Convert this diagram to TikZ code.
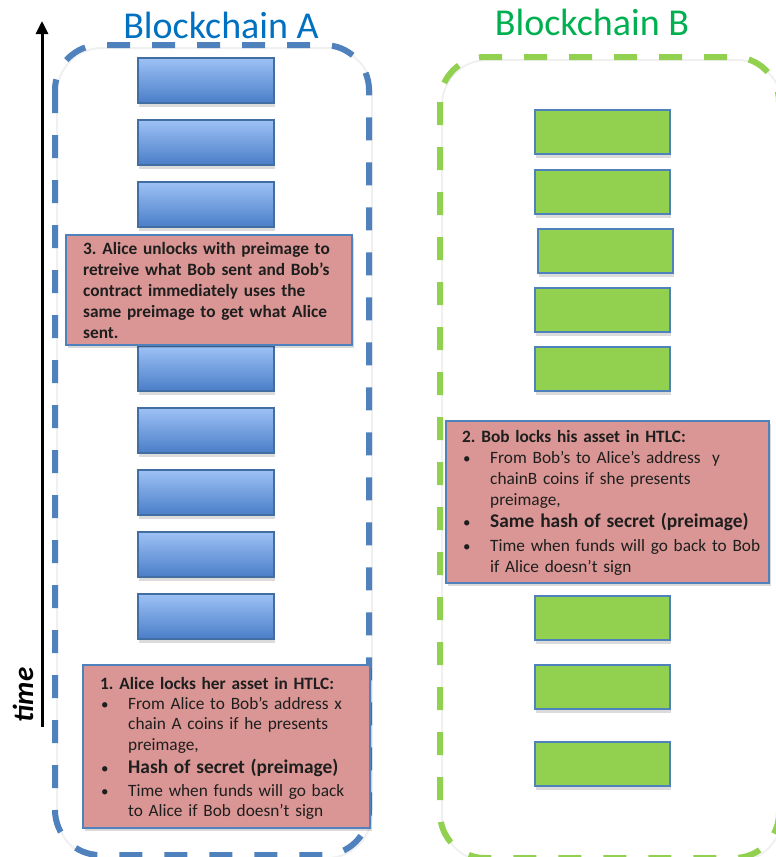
\documentclass[tikz,border=0pt]{standalone}
\usepackage{fontspec}
\setmainfont{Carlito}
\usetikzlibrary{shadows,arrows.meta,calc}
\definecolor{chainA}{HTML}{4F81BD}
\definecolor{chainB}{HTML}{92D050}
\definecolor{titleA}{HTML}{0070C0}
\definecolor{titleB}{HTML}{00B050}
\definecolor{boxfill}{HTML}{D99694}
\definecolor{blueTop}{HTML}{9DC1F5}
\definecolor{blueBot}{HTML}{4A7EC8}
\definecolor{ink}{HTML}{1E1E1E}
\newcommand\bul[1]{\hangindent=28pt\hangafter=1\noindent\makebox[28pt][l]{\hspace{1pt}{\fontsize{15}{15}\selectfont\mdseries\textbullet}}#1\par}
\frenchspacing
\tikzset{
  container/.style={line width=6pt, dash pattern=on 23pt off 22pt, rounded corners=45pt},
  contshadow/.style={draw=black!6, line width=2pt, rounded corners=45pt},
  blockA/.style={draw=chainA!85!black, line width=2pt, top color=blueTop, bottom color=blueBot,
    minimum width=136pt, minimum height=45pt, anchor=north west, inner sep=0pt, outer sep=0pt,
    drop shadow={shadow xshift=1pt, shadow yshift=-4pt, fill=black, opacity=0.14}},
  blockB/.style={draw=chainA, fill=chainB, line width=2.5pt,
    minimum width=135pt, minimum height=44pt, anchor=north west, inner sep=0pt, outer sep=0pt,
    drop shadow={shadow xshift=1pt, shadow yshift=-4pt, fill=black, opacity=0.14}},
  notebox/.style={draw=chainA, fill=boxfill, line width=2pt, anchor=north west, inner sep=0pt, outer sep=0pt,
    drop shadow={shadow xshift=2pt, shadow yshift=-3pt, fill=black, opacity=0.15}},
  notetext/.style={anchor=west, inner sep=0pt, text width=300pt, align=left, text=ink,
    font=\fontsize{17.3}{20.5}\selectfont},
  chaintitle/.style={anchor=base, font=\fontsize{38}{40}\selectfont}
}
\begin{document}
\begin{tikzpicture}[x=1pt,y=-1pt]
\useasboundingbox (0,0) rectangle (776,857);
% containers
\draw[contshadow] (57,48) rectangle (372,858);
\draw[container, draw=chainA] (55,45) rectangle (369,855);
\draw[contshadow] (442,60) rectangle (782,861);
\draw[container, draw=chainB] (440,57) rectangle (779,858);
% titles
\node[chaintitle, text=titleA] (tA) at (221,38) {Blockchain A};
\node[chaintitle, text=titleB] (tB) at (592,35) {Blockchain B};
% time arrow
\coordinate (tbot) at (42,727);
\coordinate (ttop) at (42,21);
\draw[line width=3pt, -{Triangle[length=13pt,width=12pt]}] (tbot) -- (ttop);
\node[rotate=90, font=\fontsize{29}{30}\selectfont\bfseries\itshape] (time) at (23,695) {time};
% chain A blocks
\foreach \y [count=\i] in {58,120,182,346,408,470,532,594}
  \node[blockA] (a\i) at (138,\y) {};
% chain B blocks
\foreach \y/\x [count=\i] in {110/535,170/535,229/538,288/535,347/535,596/535,665/535,742/535}
  \node[blockB] (b\i) at (\x,\y) {};
% note 3
\node[notebox, minimum width=286pt, minimum height=110pt] (n3) at (66,235) {};
\node[notetext, font=\fontsize{17.3}{21}\selectfont\bfseries] (t3) at ($(n3.west)+(17,0)$)
  {3. Alice unlocks with preimage to\newline
   retreive what Bob sent and Bob’s\newline
   contract immediately uses the\newline
   same preimage to get what Alice\newline
   sent.\par};
% note 2
\node[notebox, minimum width=323pt, minimum height=162pt] (n2) at (446,421) {};
\node[notetext, font=\fontsize{17.3}{21}\selectfont] (t2) at ($(n2.west)+(16,1)$)
  {{\bfseries 2. Bob locks his asset in HTLC:}\par
   \bul{From Bob’s to Alice’s address\ \ y\newline chainB coins if she presents\newline preimage,}
   {\fontsize{19.4}{21.5}\selectfont\bfseries\bul{Same hash of secret (preimage)}}
   \vspace{3pt}
   \bul{Time when funds will go back to Bob\newline if Alice doesn’t sign}};
% note 1
\node[notebox, minimum width=287pt, minimum height=163pt] (n1) at (83,665) {};
\node[notetext, font=\fontsize{17.3}{20.2}\selectfont] (t1) at ($(n1.west)+(17,2)$)
  {{\bfseries 1. Alice locks her asset in HTLC:}\par
   \bul{From Alice to Bob’s address x\newline chain A coins if he presents\newline preimage,}
   {\fontsize{19.4}{23}\selectfont\bfseries\bul{Hash of secret (preimage)}}
   \vspace{3pt}
   \bul{Time when funds will go back\newline to Alice if Bob doesn’t sign}};
\end{tikzpicture}
\end{document}
